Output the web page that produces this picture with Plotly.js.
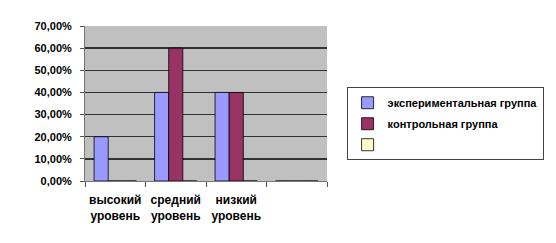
<!DOCTYPE html>
<html>
<head>
<meta charset="utf-8">
<script src="https://cdn.plot.ly/plotly-3.0.1.min.js"></script>
<style>html,body{margin:0;padding:0;background:#fff;}#chart{width:556px;height:243px;}</style>
</head>
<body>
<div id="chart"></div>
<script>
var categories = ["высокий<br>уровень", "средний<br>уровень", "низкий<br>уровень", " "];
var seriesNames = ["экспериментальная группа", "контрольная группа", " "];
var experimental = [0.20, 0.40, 0.40, 0];
var control = [0, 0.60, 0.40, 0];
var third = [0, 0, 0, 0];
var colors = ["#9999FF", "#993366", "#FFFFCC"];
var values = [experimental, control, third];

var traces = values.map(function (v, i) {
  return {
    type: "bar",
    x: categories,
    y: v,
    name: seriesNames[i],
    legendgroup: "g" + i,
    marker: { color: colors[i], line: { color: "#000", width: 0.8 } },
    hoverinfo: "none"
  };
});

var font = "Liberation Sans, Arial, sans-serif";
var layout = {
  width: 556, height: 243,
  margin: { l: 85, r: 224, t: 26, b: 62 },
  paper_bgcolor: "#fff",
  plot_bgcolor: "#C0C0C0",
  separators: ", ",
  barmode: "group",
  bargap: 0.3,
  bargroupgap: 0,
  showlegend: true,
  font: { family: font, size: 11, color: "#000", weight: "bold" },
  xaxis: {
    type: "category",
    tickson: "boundaries",
    tickangle: 0,
    ticks: "outside", ticklen: 5, tickcolor: "#555",
    ticklabelstandoff: 8,
    showline: true, linecolor: "#777", linewidth: 1,
    showgrid: false,
    tickfont: { family: font, size: 12, color: "#000", weight: "bold" }
  },
  yaxis: {
    range: [0, 0.7],
    dtick: 0.1,
    tickformat: ".2%",
    ticks: "outside", ticklen: 4, tickcolor: "#555",
    ticklabelstandoff: 6,
    showline: true, linecolor: "#777", linewidth: 1,
    gridcolor: "#333", gridwidth: 1.3,
    zeroline: false,
    tickfont: { family: font, size: 11, color: "#000", weight: "bold" }
  },
  legend: {
    x: 1.895, y: 0.605, xanchor: "right", yanchor: "top",
    bordercolor: "#444", borderwidth: 1,
    bgcolor: "#fff",
    tracegroupgap: 2,
    itemwidth: 30,
    font: { family: font, size: 11, color: "#000", weight: "bold" }
  }
};

Plotly.newPlot("chart", traces, layout, { displayModeBar: false, staticPlot: true });
</script>
</body>
</html>
